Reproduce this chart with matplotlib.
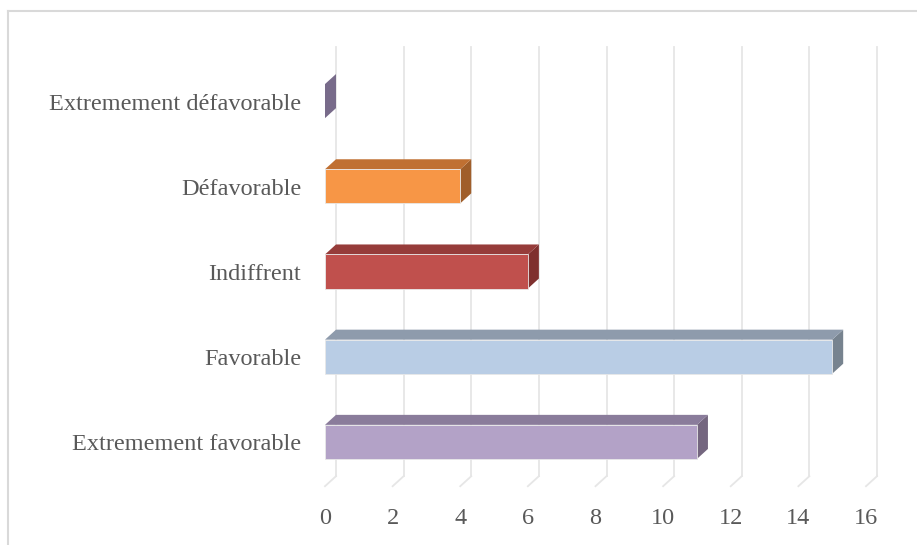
import matplotlib.pyplot as plt
import matplotlib.transforms as mtransforms
from matplotlib.patches import Polygon, Rectangle
from matplotlib.lines import Line2D

# Data (bottom to top)
categories = ["Extremement favorable", "Favorable", "Indiffrent",
              "Défavorable", "Extremement défavorable"]
values = [11, 15, 6, 4, 0]
ticks = [0, 2, 4, 6, 8, 10, 12, 14, 16]

# front / top / side colours for each bar
front_colors = ["#B3A2C7", "#B9CDE5", "#C0504D", "#F79646", "#8F80A6"]
top_colors = ["#8A7C9B", "#8E9BAC", "#963C3A", "#C07032", "#7D7090"]
side_colors = ["#74667F", "#77838F", "#7F302E", "#A05E2A", "#786B8A"]

W, H = 917, 545
fig = plt.figure(figsize=(W / 100, H / 100), dpi=100)

# axes placed so 0 -> x=325px, 16 -> x=866px
left, right = 325, 866
top, bottom = 58.5, 484.5
ax = fig.add_axes([left / W, 1 - bottom / H, (right - left) / W, (bottom - top) / H])
ax.set_xlim(0, 16)
ax.set_ylim(-0.5, 4.5)
ax.axis("off")

# depth offset in pixels, converted to data units
px_x = (right - left) / 16
px_y = (bottom - top) / 5
dx = 11 / px_x
dy = 10 / px_y

# back wall gridlines plus floor diagonals
for t in ticks:
    ax.add_line(Line2D([t + dx, t + dx], [-0.5 - 0.02 + dy, 4.5 + 0.02 + dy],
                       color="#E6E6E6", lw=1.3, clip_on=False, zorder=1))
    ax.add_line(Line2D([t, t + dx], [-0.5 - 0.02, -0.5 - 0.02 + dy],
                       color="#E6E6E6", lw=1.3, clip_on=False, zorder=1))

h = 0.4
for i, v in enumerate(values):
    y0, y1 = i - h / 2, i + h / 2
    # side
    ax.add_patch(Polygon([(v, y0), (v, y1), (v + dx, y1 + dy), (v + dx, y0 + dy)],
                         closed=True, facecolor=side_colors[i], edgecolor="none",
                         clip_on=False, zorder=3))
    if v > 0:
        # top
        ax.add_patch(Polygon([(0, y1), (v, y1), (v + dx, y1 + dy), (dx, y1 + dy)],
                             closed=True, facecolor=top_colors[i], edgecolor="none",
                             clip_on=False, zorder=3))
        # front
        ax.add_patch(Rectangle((0, y0), v, h, facecolor=front_colors[i],
                               edgecolor="#E8E8E8", lw=0.6, clip_on=False, zorder=4))

# labels
label_shift = mtransforms.ScaledTranslation(0, -0.03, fig.dpi_scale_trans)
for i, c in enumerate(categories):
    ax.text(-0.7, i, c, ha="right", va="center", fontsize=17.5,
            family="Liberation Serif", color="#595959",
            transform=ax.transData + label_shift)
tick_shift = mtransforms.ScaledTranslation(0, -0.335, fig.dpi_scale_trans)
for t in ticks:
    ax.text(t, -0.5, str(t), ha="center", va="center", fontsize=17.5,
            family="Liberation Serif", color="#595959",
            transform=ax.transData + tick_shift)

# outer chart frame (partly cut off)
fig.add_artist(Line2D([8 / W, 8 / W], [0, 1 - 11 / H], color="#D9D9D9", lw=1.5,
                      transform=fig.transFigure))
fig.add_artist(Line2D([8 / W, 1], [1 - 11 / H, 1 - 11 / H], color="#D9D9D9", lw=1.5,
                      transform=fig.transFigure))

fig.savefig("out.png", dpi=100)
